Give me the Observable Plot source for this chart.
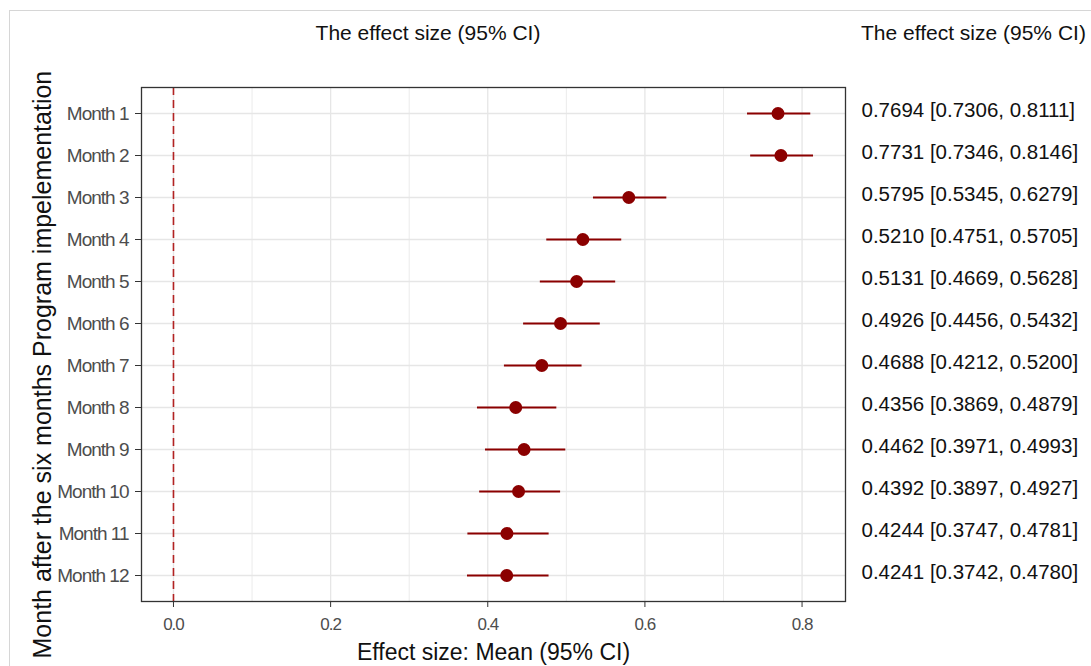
<!DOCTYPE html>
<html>
<head>
<meta charset="utf-8">
<script src="https://cdn.jsdelivr.net/npm/d3@7"></script>
<script src="https://cdn.jsdelivr.net/npm/@observablehq/plot@0.6"></script>
<style>
  html, body { margin: 0; padding: 0; background: #fff; }
  body { width: 1091px; height: 666px; position: relative; overflow: hidden;
         font-family: "Liberation Sans", Arial, sans-serif; }
  .frame { position: absolute; left: 9px; top: 10px; right: -2px; bottom: -2px;
           border-left: 1px solid #d6d6d6; border-top: 1px solid #d6d6d6;
           pointer-events: none; z-index: 5; }
  .title { position: absolute; font-size: 21px; line-height: 21px; color: #111; white-space: nowrap; }
  #main { position: absolute; left: 0; top: 73px; }
  #side { position: absolute; left: 846px; top: 73px; }
  g[aria-label="y-axis tick label"] { fill: #4d4d4d; }
  g[aria-label="y-axis tick label"] text { letter-spacing: -1px; }
  g[aria-label="x-axis tick label"] { fill: #4d4d4d; }
  g[aria-label="x-axis tick label"] text { letter-spacing: -1px; }
</style>
</head>
<body>
<div class="frame"></div>
<div class="title" id="t1" style="left:228px; width:400px; text-align:center; top:22px;"></div>
<div class="title" id="t2" style="left:861px; top:22px;"></div>
<div id="main"></div>
<div id="side"></div>
<script>
// ---- data ----
const months = ["Month 1","Month 2","Month 3","Month 4","Month 5","Month 6",
                "Month 7","Month 8","Month 9","Month 10","Month 11","Month 12"];
const meanValues  = [0.7694, 0.7731, 0.5795, 0.5210, 0.5131, 0.4926, 0.4688, 0.4356, 0.4462, 0.4392, 0.4244, 0.4241];
const lowerValues = [0.7306, 0.7346, 0.5345, 0.4751, 0.4669, 0.4456, 0.4212, 0.3869, 0.3971, 0.3897, 0.3747, 0.3742];
const upperValues = [0.8111, 0.8146, 0.6279, 0.5705, 0.5628, 0.5432, 0.5200, 0.4879, 0.4993, 0.4927, 0.4781, 0.4780];
const xTicks = [0, 0.2, 0.4, 0.6, 0.8];
const xMinorTicks = [0.1, 0.3, 0.5, 0.7];
const refValue = [0];
const panelTitle = "The effect size (95% CI)";
const sideTitle = "The effect size (95% CI)";
const xTitle = "Effect size: Mean (95% CI)";
const yTitle = "Month after the six months Program impelementation";

const rows = months.map((m, i) => ({
  month: m, mean: meanValues[i], lower: lowerValues[i], upper: upperValues[i],
  label: `${meanValues[i].toFixed(4)} [${lowerValues[i].toFixed(4)}, ${upperValues[i].toFixed(4)}]`
}));

document.getElementById("t1").textContent = panelTitle;
document.getElementById("t2").textContent = sideTitle;

const font = '"Liberation Sans", Arial, sans-serif';
const dark = "#8b0000";

const main = Plot.plot({
  width: 1091,
  height: 593,
  marginLeft: 141,
  marginRight: 246,
  marginTop: 14,
  marginBottom: 65,
  style: { background: "transparent", overflow: "visible", fontFamily: font },
  x: { domain: [-0.0407, 0.8553], label: null },
  y: { type: "point", domain: months, padding: 0.6, label: null },
  marks: [
    Plot.ruleX(xMinorTicks, { stroke: "#ebebeb", strokeWidth: 1 }),
    Plot.ruleX(xTicks, { stroke: "#e6e6e6", strokeWidth: 1.3 }),
    Plot.ruleY(months, { stroke: "#e6e6e6", strokeWidth: 1.3 }),
    Plot.ruleX(refValue, { stroke: "#b22222", strokeWidth: 1.6, strokeDasharray: "8,5" }),
    Plot.ruleY(rows, { y: "month", x1: "lower", x2: "upper", stroke: dark, strokeWidth: 2 }),
    Plot.dot(rows, { x: "mean", y: "month", r: 6.5, fill: dark, stroke: "none" }),
    Plot.axisX({ ticks: xTicks, tickFormat: d3.format(".1f"), tickSize: 6, tickPadding: 10,
                 fontSize: 17, color: "#333", label: null }),
    Plot.axisY({ tickSize: 6, tickPadding: 7, fontSize: 19, color: "#333", label: null }),
    Plot.frame({ stroke: "#333", strokeWidth: 1.3 }),
    Plot.text([xTitle], { frameAnchor: "bottom", dy: 51, lineAnchor: "middle",
                          fontSize: 23, fill: "#111" }),
    Plot.text([yTitle], { frameAnchor: "bottom-left", dx: -99, dy: 57, rotate: -90,
                          textAnchor: "start", lineAnchor: "middle", fontSize: 25, fill: "#111" })
  ]
});
document.getElementById("main").appendChild(main);

const side = Plot.plot({
  width: 245,
  height: 593,
  marginLeft: 0,
  marginRight: 0,
  marginTop: 7,
  marginBottom: 65,
  style: { background: "transparent", overflow: "visible", fontFamily: font },
  y: { type: "point", domain: months, padding: 0.6, axis: null },
  marks: [
    Plot.text(rows, { y: "month", text: "label", frameAnchor: "left", dx: 15,
                      textAnchor: "start", lineAnchor: "middle", fontSize: 20.5, fill: "#111" })
  ]
});
document.getElementById("side").appendChild(side);
</script>
</body>
</html>
